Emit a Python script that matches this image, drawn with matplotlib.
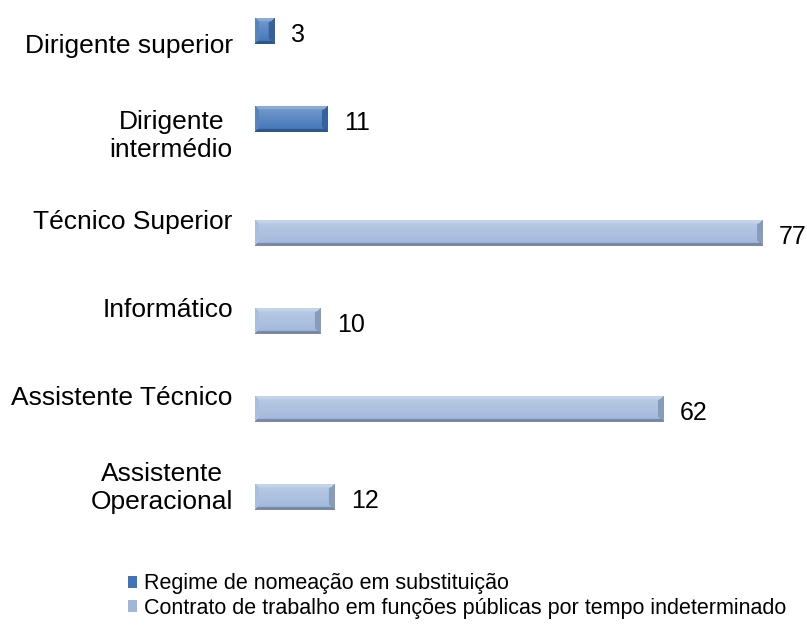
import numpy as np
import matplotlib.pyplot as plt
from matplotlib.colors import to_rgb
from matplotlib.patches import Patch

plt.rcParams['font.family'] = ['Liberation Sans', 'DejaVu Sans']

categorias = ['Dirigente superior', 'Dirigente\nintermédio', 'Técnico Superior',
              'Informático', 'Assistente Técnico', 'Assistente\nOperacional']
nomeacao = [3, 11, np.nan, np.nan, np.nan, np.nan]
contrato = [np.nan, np.nan, 77, 10, 62, 12]
series_nomes = ['Regime de nomeação em substituição',
                'Contrato de trabalho em funções públicas por tempo indeterminado']
cores = ['#3f74b8', '#9fb7db']


def mix(c, alvo, t):
    return c + (alvo - c) * t


def bevel(cor, wpx, hpx, b=4):
    # imagem com efeito "bisel" para pintar dentro de cada barra
    base = np.array(to_rgb(cor))
    yy, xx = np.mgrid[0:hpx, 0:wpx] + 0.5
    dt, db, dl, dr = yy, hpx - yy, xx, wpx - xx
    m = np.minimum(np.minimum(dt, db), np.minimum(dl, dr))
    img = np.empty((hpx, wpx, 3))
    t = (0.3 * (1 - yy / hpx))[..., None]
    img[:] = mix(base, np.ones(3), t)
    topo = (dt < b) & (dt <= m)
    fundo = (db < 3) & (db <= m) & ~topo
    esq = (dl < b) & (dl <= m) & ~topo & ~fundo
    dir_ = (dr < b + 2) & (dr <= m) & ~topo & ~fundo
    img[topo] = mix(base, np.ones(3), 0.4)
    img[esq] = mix(base, np.ones(3), 0.12)
    img[dir_] = base * 0.85
    img[fundo] = base * 0.75
    return img


fig = plt.figure(figsize=(8.07, 6.30), dpi=100)
ax = fig.add_axes([0.316, 0.162, 0.653, 0.838])

y = np.arange(len(categorias))
h = 0.3
px_x = 527 / 80
px_y = 88

for vals, off, cor in [(nomeacao, -h / 2, cores[0]), (contrato, h / 2, cores[1])]:
    for yi, v in zip(y, vals):
        if np.isnan(v):
            continue
        bar = ax.barh(yi + off, v, height=h, color=cor, linewidth=0)[0]
        x0, y0 = bar.get_x(), bar.get_y()
        img = bevel(cor, max(int(v * px_x), 2), int(h * px_y))
        im = ax.imshow(img, extent=(x0, x0 + v, y0 + h, y0), origin='upper',
                       aspect='auto', interpolation='bilinear', zorder=3)
        im.set_clip_path(bar)
        ax.annotate(f'{int(v)}', (v, yi + off), xytext=(12, -3), textcoords='offset points',
                    ha='left', va='center', fontsize=18)

ax.set_xlim(0, 80)
ax.set_ylim(len(categorias) - 0.5, -0.5)
ax.set_yticks(y)
ax.set_yticklabels(categorias, fontsize=19)
for lab in ax.get_yticklabels():
    lab.set_multialignment('center')
ax.tick_params(axis='y', length=0, pad=16)
ax.set_xticks([])
for s in ax.spines.values():
    s.set_visible(False)

handles = [Patch(facecolor=c, edgecolor='none') for c in cores]
fig.legend(handles, series_nomes, loc='upper left', bbox_to_anchor=(0.158, 0.09),
           frameon=False, fontsize=15.5, handlelength=0.45, handleheight=0.5,
           handletextpad=0.3, labelspacing=0.15, borderpad=0, borderaxespad=0)

plt.savefig('out.png', dpi=100)
